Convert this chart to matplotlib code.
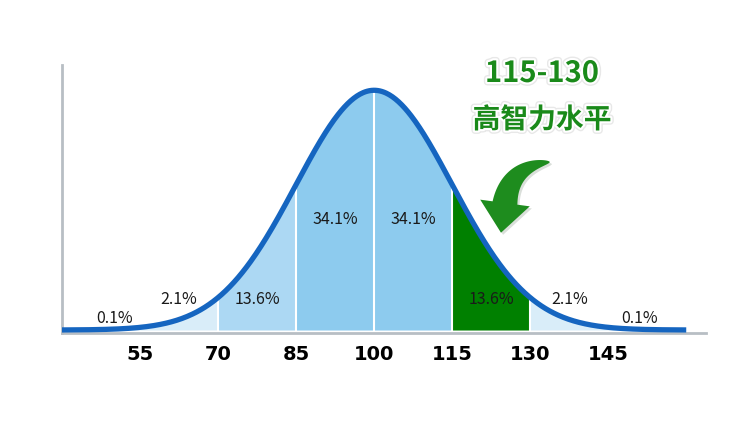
import numpy as np
import matplotlib
matplotlib.use("Agg")
from matplotlib import pyplot as plt
import matplotlib.patheffects as pe
from matplotlib.patches import Polygon

plt.rcParams['font.family'] = ['Noto Sans CJK SC', 'DejaVu Sans']

# data
mean, sd = 100, 15
bounds = [40, 55, 70, 85, 100, 115, 130, 145, 160]
tick_values = [55, 70, 85, 100, 115, 130, 145]
pct_labels = ['0.1%', '2.1%', '13.6%', '34.1%', '34.1%', '13.6%', '2.1%', '0.1%']
title_range = '115-130'
title_text = '高智力水平'

seg_colors = ['#d9edf9', '#d9edf9', '#acd8f3', '#8dcbee', '#8dcbee',
              '#008000', '#d9edf9', '#d9edf9']


def pdf(x):
    return np.exp(-0.5 * ((x - mean) / sd) ** 2) / (sd * np.sqrt(2 * np.pi))


fig = plt.figure(figsize=(7.5, 4.22), dpi=100)
ax = fig.add_axes([62 / 750, 89 / 422, 644 / 750, 268 / 422])
ax.set_xlim(40, 163.8)
ax.set_ylim(-0.00033, 0.0294)

# filled segments
for i in range(len(bounds) - 1):
    xs = np.linspace(bounds[i], bounds[i + 1], 100)
    ax.fill_between(xs, 0, pdf(xs), color=seg_colors[i], lw=0, zorder=1)

# white dividers
for b in bounds[2:-2]:
    ax.plot([b, b], [0, pdf(b)], color='white', lw=1.5, zorder=2)

# curve
xs = np.linspace(40, 160, 600)
ax.plot(xs, pdf(xs), color='#1565c0', lw=3.8, solid_capstyle='butt', zorder=3)

# percentage labels
label_x = [50.2] + [(bounds[i] + bounds[i + 1]) / 2 for i in range(1, 7)] + [151]
label_y = [0.00133, 0.00344, 0.00344, 0.0123, 0.0123, 0.00344, 0.00344, 0.00133]
for x, y, t in zip(label_x, label_y, pct_labels):
    ax.text(x, y, t, ha='center', va='center', fontsize=11.5,
            color='#1a1a1a', zorder=4)

# axes styling
for s in ['top', 'right']:
    ax.spines[s].set_visible(False)
for s in ['left', 'bottom']:
    ax.spines[s].set_color('#b8bec4')
    ax.spines[s].set_linewidth(2)
ax.set_yticks([])
ax.set_xticks(tick_values)
ax.set_xticklabels([str(v) for v in tick_values], fontsize=14,
                   fontweight='bold', family='DejaVu Sans')
ax.tick_params(axis='x', length=0, pad=9)

# annotation text
glow = [pe.withStroke(linewidth=5, foreground='#e8e8e8'),
        pe.withStroke(linewidth=3, foreground='white')]
fig.text(542 / 750, 1 - 73 / 422, title_range, ha='center', va='center',
         fontsize=21, fontweight='bold', color='#1a8a1a', path_effects=glow)
fig.text(542 / 750, 1 - 120 / 422, title_text, ha='center', va='center',
         fontsize=20, fontweight='bold', color='#1a8a1a', path_effects=glow)

# curved arrow drawn as a tapered shape (pixel coords, y from top)
p0 = np.array([550.0, 162.0])
p1 = np.array([510.0, 166.0])
p2 = np.array([505.0, 203.0])
t = np.linspace(0, 1, 60)[:, None]
pts = (1 - t) ** 2 * p0 + 2 * (1 - t) * t * p1 + t ** 2 * p2
tan = 2 * (1 - t) * (p1 - p0) + 2 * t * (p2 - p1)
tan = tan / np.linalg.norm(tan, axis=1)[:, None]
nrm = np.column_stack([-tan[:, 1], tan[:, 0]])
w = 12.5 * t[:, 0] ** 0.6
side_a = pts + nrm * w[:, None]
side_b = pts - nrm * w[:, None]
end_t, end_n = tan[-1], nrm[-1]
head = [p2 + end_n * 25, p2 + end_t * 30, p2 - end_n * 25]
outline = np.vstack([side_a, head, side_b[::-1]])
outline[:, 1] = 422 - outline[:, 1]
arrow = Polygon(outline / [750, 422], closed=True, transform=fig.transFigure,
                facecolor='#1e8c1e', edgecolor='none',
                path_effects=[pe.SimplePatchShadow(offset=(1.5, -1.5), alpha=0.15),
                              pe.Normal()])
fig.add_artist(arrow)

fig.savefig('out.png', dpi=100)
